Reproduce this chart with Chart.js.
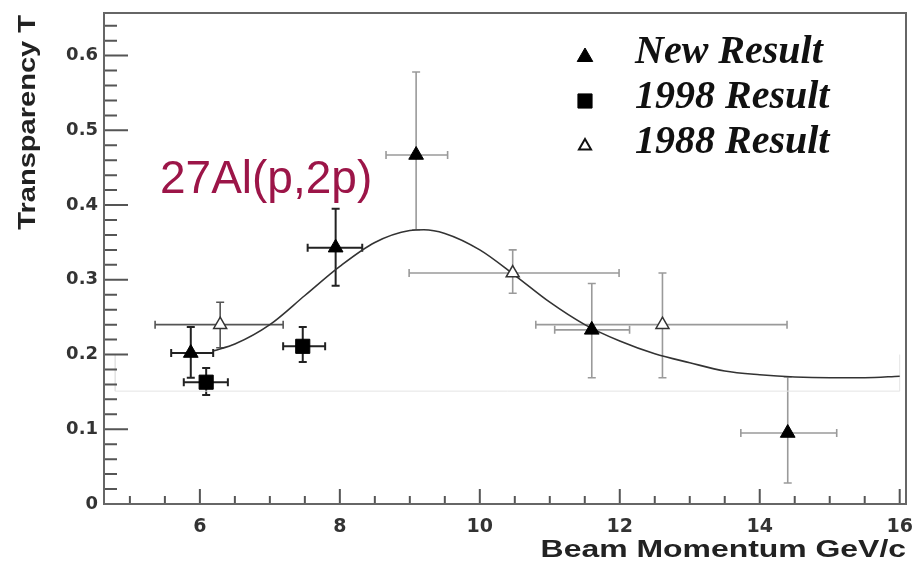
<!DOCTYPE html>
<html>
<head>
<meta charset="utf-8">
<script src="https://cdn.jsdelivr.net/npm/chart.js@4.4.1/dist/chart.umd.min.js"></script>
<style>
  html, body { margin: 0; padding: 0; background: #fff; }
  #wrap { width: 912px; height: 565px; position: relative; }
</style>
</head>
<body>
<div id="wrap"><canvas id="chart"></canvas></div>
<script>
// New Result (filled triangles)
const newX   = [5.87, 7.94, 9.09, 11.6, 14.4];
const newY   = [0.202, 0.343, 0.467, 0.233, 0.095];
const newXLo = [5.59, 7.54, 8.66, 11.07, 13.73];
const newXHi = [6.19, 8.32, 9.54, 12.14, 15.1];
const newYLo = [0.169, 0.292, 0.367, 0.169, 0.028];
const newYHi = [0.237, 0.395, 0.578, 0.295, 0.170];

// 1998 Result (filled squares)
const r98X   = [6.09, 7.47];
const r98Y   = [0.163, 0.211];
const r98XLo = [5.77, 7.19];
const r98XHi = [6.4, 7.79];
const r98YLo = [0.146, 0.19];
const r98YHi = [0.182, 0.237];

// 1988 Result (open triangles)
const r88X   = [6.29, 10.47, 12.61];
const r88Y   = [0.24, 0.309, 0.24];
const r88XLo = [5.36, 8.99, 10.8];
const r88XHi = [7.19, 11.99, 14.39];
const r88YLo = [0.209, 0.282, 0.169];
const r88YHi = [0.27, 0.34, 0.309];

// fitted curve
const fitX = [6.2, 6.5, 7.0, 7.5, 8.0, 8.5, 9.0, 9.2, 9.5, 10.0, 10.5, 11.0, 11.5, 12.0, 12.5, 13.0, 13.5, 14.0, 14.5, 15.0, 15.5, 16.0];
const fitY = [0.205, 0.214, 0.240, 0.279, 0.318, 0.350, 0.366, 0.367, 0.362, 0.340, 0.306, 0.270, 0.240, 0.218, 0.201, 0.189, 0.178, 0.173, 0.170, 0.169, 0.169, 0.171];

// faint box left over in the scan
const boxX = [4.79, 4.79, 16.0, 16.0];
const boxY = [0.2, 0.151, 0.151, 0.2];

const seriesNames = ['New Result', '1998 Result', '1988 Result'];
const reactionLabel = '27Al(p,2p)';
const xTitle = 'Beam Momentum GeV/c';
const yTitle = 'Transparency T';

const dark = '#222';
const grey = '#9a9a9a';
const tickFont = '"DejaVu Sans", "Liberation Sans", sans-serif';

function points(xs, ys, xl, xh, yl, yh) {
  return xs.map((v, i) => ({ x: v, y: ys[i], xLo: xl[i], xHi: xh[i], yLo: yl[i], yHi: yh[i] }));
}

// draws the error bars under the markers
const errorBars = {
  id: 'errorBars',
  beforeDatasetsDraw(chart) {
    const { ctx, scales: { x, y } } = chart;
    chart.data.datasets.forEach((ds) => {
      if (!ds.errColor) return;
      ds.data.forEach((p, j) => {
        const px = x.getPixelForValue(p.x), py = y.getPixelForValue(p.y);
        const x0 = x.getPixelForValue(p.xLo), x1 = x.getPixelForValue(p.xHi);
        const y0 = y.getPixelForValue(p.yLo), y1 = y.getPixelForValue(p.yHi);
        ctx.save();
        ctx.strokeStyle = ds.errColor[j];
        ctx.lineWidth = ds.errColor[j] === dark ? 2 : 1.6;
        ctx.beginPath();
        ctx.moveTo(x0, py); ctx.lineTo(x1, py);
        ctx.moveTo(x0, py - 4); ctx.lineTo(x0, py + 4);
        ctx.moveTo(x1, py - 4); ctx.lineTo(x1, py + 4);
        ctx.moveTo(px, y0); ctx.lineTo(px, y1);
        ctx.moveTo(px - 4, y0); ctx.lineTo(px + 4, y0);
        ctx.moveTo(px - 4, y1); ctx.lineTo(px + 4, y1);
        ctx.stroke();
        ctx.restore();
      });
    });
  }
};

// inward ticks, frame, titles, legend and reaction label
const decorations = {
  id: 'decorations',
  afterDraw(chart) {
    const { ctx, chartArea: a, scales: { x, y } } = chart;
    ctx.save();
    ctx.strokeStyle = '#555';
    ctx.lineWidth = 2;
    ctx.beginPath();
    y.ticks.forEach(t => {
      const py = y.getPixelForValue(t.value);
      const major = Math.abs(t.value * 10 - Math.round(t.value * 10)) < 1e-6;
      ctx.moveTo(a.left, py); ctx.lineTo(a.left + (major ? 24 : 13), py);
    });
    x.ticks.forEach(t => {
      if (t.value < x.min || t.value > x.max) return;
      const px = x.getPixelForValue(t.value);
      const major = Math.abs(t.value / 2 - Math.round(t.value / 2)) < 1e-6;
      ctx.moveTo(px, a.bottom); ctx.lineTo(px, a.bottom - (major ? 15 : 8));
    });
    ctx.stroke();
    ctx.strokeStyle = '#666';
    ctx.strokeRect(a.left, a.top, a.right - a.left, a.bottom - a.top);

    // axis titles (the scan is stretched, so the text is too)
    ctx.fillStyle = '#222';
    ctx.font = 'bold 24px "Liberation Sans", Arial, sans-serif';
    ctx.save();
    ctx.translate(a.right, 557);
    ctx.scale(1.33, 1);
    ctx.textAlign = 'right';
    ctx.textBaseline = 'alphabetic';
    ctx.fillText(xTitle, 0, 0);
    ctx.restore();

    ctx.save();
    ctx.translate(35, 15);
    ctx.rotate(-Math.PI / 2);
    ctx.scale(1.21, 1);
    ctx.textAlign = 'right';
    ctx.textBaseline = 'alphabetic';
    ctx.fillText(yTitle, 0, 0);
    ctx.restore();

    // reaction label
    ctx.fillStyle = '#9c1548';
    ctx.font = '46px "Liberation Sans", Arial, sans-serif';
    ctx.textAlign = 'left';
    ctx.textBaseline = 'alphabetic';
    ctx.fillText(reactionLabel, x.getPixelForValue(5.43), y.getPixelForValue(0.416));

    // legend
    const markers = [
      { pointStyle: 'triangle', radius: 9, fill: '#000', border: '#000', bw: 1 },
      { pointStyle: 'rect', radius: 10, fill: '#000', border: '#000', bw: 1 },
      { pointStyle: 'triangle', radius: 7, fill: '#fff', border: '#111', bw: 2 }
    ];
    const rows = [57, 101, 146];
    const base = [63, 108, 153];
    ctx.font = 'italic bold 40px "Liberation Serif", "Times New Roman", serif';
    ctx.fillStyle = '#111';
    seriesNames.forEach((name, i) => {
      const m = markers[i];
      ctx.save();
      ctx.fillStyle = m.fill;
      ctx.strokeStyle = m.border;
      ctx.lineWidth = m.bw;
      Chart.helpers.drawPoint(ctx, { pointStyle: m.pointStyle, radius: m.radius, rotation: 0, borderWidth: m.bw }, 585, rows[i]);
      ctx.restore();
      ctx.fillText(name, 635, base[i]);
    });
    ctx.restore();
  }
};

const isTenth = v => Math.abs(v * 10 - Math.round(v * 10)) < 1e-6;

new Chart(document.getElementById('chart'), {
  type: 'scatter',
  data: {
    datasets: [
      {
        label: seriesNames[0],
        data: points(newX, newY, newXLo, newXHi, newYLo, newYHi),
        pointStyle: 'triangle', pointRadius: 8.5,
        backgroundColor: '#000', borderColor: '#000', borderWidth: 1,
        errColor: [dark, dark, grey, grey, grey]
      },
      {
        label: seriesNames[1],
        data: points(r98X, r98Y, r98XLo, r98XHi, r98YLo, r98YHi),
        pointStyle: 'rect', pointRadius: 10,
        backgroundColor: '#000', borderColor: '#000', borderWidth: 1,
        errColor: [dark, dark]
      },
      {
        label: seriesNames[2],
        data: points(r88X, r88Y, r88XLo, r88XHi, r88YLo, r88YHi),
        pointStyle: 'triangle', pointRadius: 7.5,
        backgroundColor: '#fff', borderColor: '#333', borderWidth: 1.5,
        errColor: ['#555', grey, grey]
      },
      {
        type: 'line',
        label: 'fit',
        data: fitX.map((v, i) => ({ x: v, y: fitY[i] })),
        borderColor: '#333', borderWidth: 1.6, pointRadius: 0,
        cubicInterpolationMode: 'monotone', fill: false
      },
      {
        type: 'line',
        label: 'box',
        data: boxX.map((v, i) => ({ x: v, y: boxY[i] })),
        borderColor: '#e4e4e4', borderWidth: 1, pointRadius: 0, fill: false
      }
    ]
  },
  options: {
    responsive: true,
    maintainAspectRatio: false,
    animation: false,
    layout: { autoPadding: false, padding: { top: 13, right: 6, left: 0, bottom: 0 } },
    plugins: { legend: { display: false }, tooltip: { enabled: false } },
    scales: {
      x: {
        type: 'linear', min: 4.63, max: 16.09,
        afterFit: s => { s.height = 61; s.paddingLeft = 0; s.paddingRight = 0; },
        border: { display: false },
        grid: { display: false, drawTicks: false },
        ticks: {
          stepSize: 0.5, includeBounds: false, autoSkip: false, maxRotation: 0, padding: 12,
          color: '#333', font: { size: 19, weight: 'bold', family: tickFont },
          callback: v => (Math.abs(v / 2 - Math.round(v / 2)) < 1e-6 ? String(Math.round(v)) : '')
        }
      },
      y: {
        type: 'linear', min: 0, max: 0.657,
        afterFit: s => { s.width = 104; s.paddingTop = 0; s.paddingBottom = 0; },
        border: { display: false },
        grid: { display: false, drawTicks: false },
        ticks: {
          stepSize: 0.02, includeBounds: false, autoSkip: false, padding: 6,
          color: '#333', font: { size: 18, weight: 'bold', family: tickFont },
          callback: v => (isTenth(v) ? (Math.round(v * 10) === 0 ? '0' : (Math.round(v * 10) / 10).toFixed(1)) : '')
        }
      }
    }
  },
  plugins: [errorBars, decorations]
});
</script>
</body>
</html>
